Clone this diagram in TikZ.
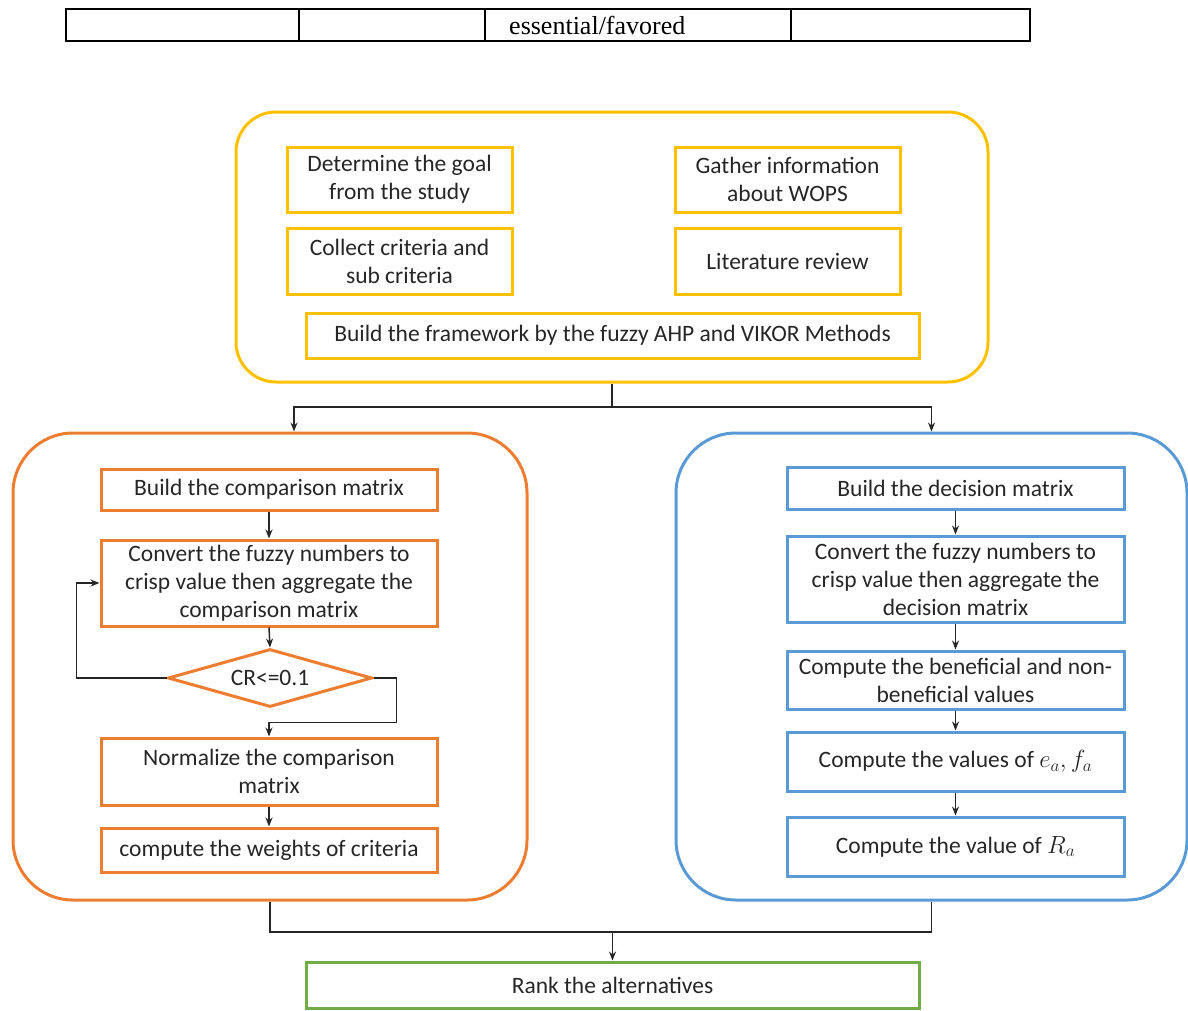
\documentclass[tikz,border=0pt]{standalone}
\usepackage{fontspec}
\setmainfont{Carlito}
\newfontfamily\tabfont{Liberation Serif}
\usetikzlibrary{shapes.geometric, arrows.meta}
\definecolor{cYellow}{HTML}{FFC000}
\definecolor{cOrange}{HTML}{ED7D31}
\definecolor{cBlue}{HTML}{5B9BD5}
\definecolor{cGreen}{HTML}{70AD47}
\begin{document}
\begin{tikzpicture}[
        % 1 unit = 1 px, y runs downwards
        x=1pt, y=-1pt,
        font=\fontsize{23.5}{28}\selectfont,
        panel/.style={draw, line width=3pt, rounded corners=#1, inner sep=0pt},
        boxYellow/.style={draw=cYellow, line width=3pt, align=center, inner sep=0pt, text=black!85},
        boxOrange/.style={draw=cOrange, line width=3pt, align=center, inner sep=0pt, text=black!85},
        boxBlue/.style={draw=cBlue, line width=3pt, align=center, inner sep=0pt, text=black!85},
        boxGreen/.style={draw=cGreen, line width=3pt, align=center, inner sep=0pt, text=black!85},
        check/.style={draw=cOrange, line width=3pt, diamond, aspect=3.5, inner sep=0pt, text=black!85},
        link/.style={->, >={Stealth[length=9pt, width=7pt]}, line width=1.5pt, black!85},
        wire/.style={line width=1.5pt, black!85}
    ]
        \useasboundingbox (0,0) rectangle (1188,1010);

        % --- table row above the chart ---
        \draw[line width=2.2pt] (66,9) rectangle (1030,41);
        \foreach \x in {299, 485, 791} {
            \draw[line width=1.6pt] (\x,9) -- (\x,41);
        }
        \node[anchor=west, inner sep=0pt] (tabcell) at (509,25) {\tabfont\fontsize{26}{28}\selectfont essential/favored};

        % --- 1. preparation stage ---
        \node[panel=40pt, draw=cYellow, minimum width=752, minimum height=270] (prep) at (612,247) {};
        \node[boxYellow, minimum width=225, minimum height=65] (goal) at (399.5,179.5) {Determine the goal\\from the study};
        \node[boxYellow, minimum width=225, minimum height=65] (gather) at (787.5,179.5) {Gather information\\about WOPS};
        \node[boxYellow, minimum width=225, minimum height=66] (collect) at (399.5,261) {Collect criteria and\\sub criteria};
        \node[boxYellow, minimum width=225, minimum height=66] (review) at (787.5,261) {Literature review};
        \node[boxYellow, minimum width=613, minimum height=45] (frame) at (612.5,335.5) {Build the framework by the fuzzy AHP and VIKOR Methods};

        % --- 2. fuzzy AHP stage ---
        \node[panel=60pt, draw=cOrange, minimum width=514, minimum height=467] (ahp) at (270,666.5) {};
        \node[boxOrange, minimum width=336, minimum height=41] (cmpA) at (269,489.5) {Build the comparison matrix};
        \node[boxOrange, minimum width=336, minimum height=86] (convA) at (269,583) {Convert the fuzzy numbers to\\crisp value then aggregate the\\comparison matrix};
        \node[check, minimum width=204, minimum height=58] (crit) at (270,678) {CR<=0.1};
        \node[boxOrange, minimum width=336, minimum height=67] (normA) at (269,771.5) {Normalize the comparison\\matrix};
        \node[boxOrange, minimum width=336, minimum height=44] (wts) at (269,850) {compute the weights of criteria};

        % --- 3. VIKOR stage ---
        \node[panel=60pt, draw=cBlue, minimum width=511, minimum height=467] (vikor) at (931.5,666.5) {};
        \node[boxBlue, minimum width=337, minimum height=42] (decV) at (955.5,488) {Build the decision matrix};
        \node[boxBlue, minimum width=337, minimum height=86] (convV) at (955.5,579) {Convert the fuzzy numbers to\\crisp value then aggregate the\\decision matrix};
        \node[boxBlue, minimum width=337, minimum height=58] (benV) at (955.5,680) {Compute the beneficial and non-\\beneficial values};
        \node[boxBlue, minimum width=337, minimum height=59] (efV) at (955.5,761.5) {Compute the values of $e_a, f_a$};
        \node[boxBlue, minimum width=337, minimum height=59] (rV) at (955.5,846.5) {Compute the value of $R_a$};

        % --- 4. ranking ---
        \node[boxGreen, minimum width=613, minimum height=46] (rank) at (612.5,985) {Rank the alternatives};

        % --- connectors ---
        \coordinate (fork) at (612,407);
        \coordinate (join) at (612.5,932);
        \draw[wire] (prep.south) -- (fork);
        \draw[link] (fork) -| ([xshift=24pt]ahp.north);
        \draw[link] (fork) -| (vikor.north);

        \foreach \a/\b in {cmpA/convA, convA/crit, normA/wts, decV/convV, convV/benV, benV/efV, efV/rV} {
            \draw[link] (\a.south) -- (\b.north);
        }
        % CR check: loop back or go on
        \draw[link] (crit.west) -- ++(-90,0) |- (convA.west);
        \draw[link] (crit.east) -- ++(23,0) |- ([yshift=14pt]normA.north) -- (normA.north);

        \draw[wire] (ahp.south) |- (join) -| (vikor.south);
        \draw[link] (join) -- (rank.north);

\end{tikzpicture}
\end{document}
